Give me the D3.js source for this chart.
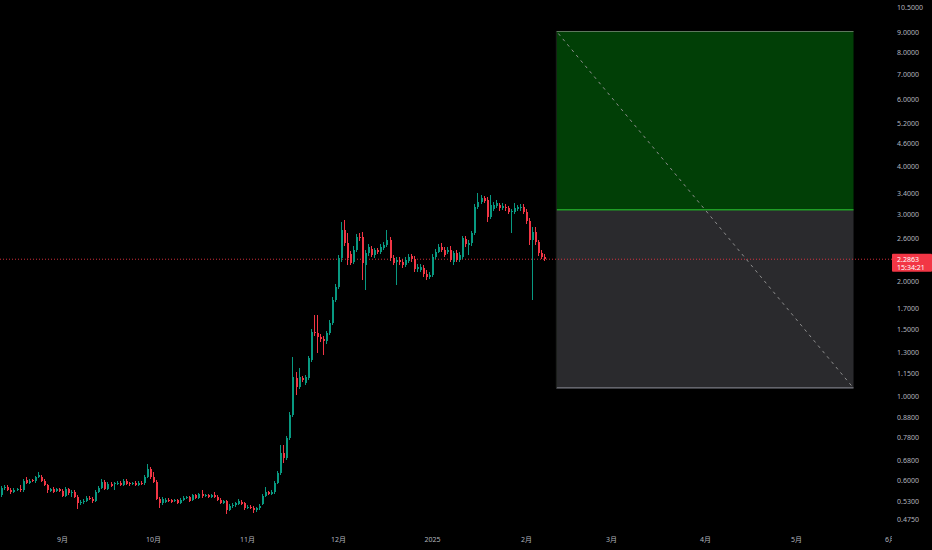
<!DOCTYPE html>
<html><head><meta charset="utf-8">
<script src="https://cdn.jsdelivr.net/npm/d3@7"></script>
<style>html,body{margin:0;padding:0;background:#000;overflow:hidden}</style>
</head><body><svg id="c" width="932" height="550"></svg>
<script>
const startDate = "2024-08-12";
const opens = [
0.5496,0.5734,0.5769,0.5665,0.5597,0.5665,0.5682,0.5648,0.6018,0.5921,
0.6000,0.5982,0.6117,0.6139,0.5993,0.5839,0.5631,0.5699,0.5631,0.5682,
0.5641,0.5463,0.5689,0.5563,0.5597,0.5430,0.5221,0.5269,0.5301,0.5408,
0.5365,0.5311,0.5607,0.5724,0.5957,0.5699,0.5874,0.5857,0.5892,0.5921,
0.5839,0.5982,0.5892,0.5864,0.5910,0.5839,0.5921,0.5892,0.6139,0.6420,
0.6117,0.5957,0.5365,0.5228,0.5279,0.5333,0.5317,0.5285,0.5323,0.5247,
0.5333,0.5398,0.5420,0.5333,0.5496,0.5408,0.5513,0.5463,0.5496,0.5440,
0.5480,0.5440,0.5333,0.5247,0.5285,0.5021,0.5127,0.5158,0.5206,0.5269,
0.5221,0.5082,0.5121,0.5091,0.5005,0.5066,0.5206,0.5463,0.5580,0.5530,
0.5597,0.5910,0.6278,0.7073,0.6862,0.7745,0.8915,1.117,1.054,1.115,
1.0818,1.115,1.2432,1.4752,1.4636,1.4312,1.4114,1.3903,1.461,1.552,
1.7867,1.9364,2.299,2.728,2.5173,2.3597,2.2524,2.417,2.6198,2.6151,
2.208,2.3698,2.4322,2.3385,2.417,2.3927,2.4542,2.492,2.568,2.3033,
2.2524,2.276,2.2482,2.2144,2.2687,2.3311,2.2894,2.155,2.1485,2.172,
2.0971,2.0570,2.078,2.3214,2.3956,2.4616,2.417,2.3884,2.417,2.2524,
2.3698,2.276,2.3214,2.579,2.492,2.5173,2.6743,3.1408,3.2372,3.3045,
3.271,2.9565,3.0975,3.1599,3.173,3.1106,3.1408,3.1162,3.0362,3.0511,
3.1068,3.1106,3.1408,3.0474,2.8807,2.568,2.7004,2.5325,2.374,2.3214];
const highs = [
0.5804,0.5839,0.5839,0.5734,0.5734,0.5734,0.5839,0.6055,0.6139,0.6055,
0.6055,0.6165,0.6305,0.6203,0.6055,0.5874,0.5734,0.5751,0.5734,0.5734,
0.5699,0.5751,0.5734,0.5665,0.5648,0.5480,0.5333,0.5349,0.5463,0.5463,
0.5414,0.5665,0.5786,0.6037,0.6018,0.5928,0.5928,0.5946,0.5982,0.5964,
0.6037,0.6037,0.5946,0.5946,0.5964,0.5982,0.5964,0.6203,0.6630,0.6522,
0.6305,0.6018,0.5414,0.5414,0.5381,0.5381,0.5365,0.5365,0.5365,0.5381,
0.5463,0.5463,0.5463,0.5546,0.5546,0.5563,0.5665,0.5546,0.5546,0.5530,
0.5607,0.5496,0.5381,0.5333,0.5333,0.5190,0.5221,0.5269,0.5349,0.5317,
0.5269,0.5174,0.5174,0.5143,0.5112,0.5206,0.5513,0.5779,0.5631,0.5665,
0.5964,0.6355,0.7437,0.7437,0.7853,0.9078,1.2636,1.156,1.182,1.1285,
1.1354,1.2736,1.4995,1.6318,1.6318,1.4547,1.4373,1.4815,1.583,1.8194,
1.968,2.345,2.8686,2.898,2.679,2.4028,2.4766,2.663,2.679,2.6953,
2.417,2.5068,2.4766,2.4542,2.4542,2.5068,2.5373,2.728,2.6151,2.345,
2.3173,2.3104,2.2894,2.3173,2.3597,2.3667,2.3311,2.2213,2.2213,2.2144,
2.142,2.1163,2.3597,2.4322,2.5068,2.5218,2.4616,2.4616,2.4766,2.4028,
2.417,2.3884,2.6311,2.6311,2.568,2.7117,3.1924,3.4059,3.3711,3.3509,
3.3306,3.3711,3.2313,3.271,3.2216,3.212,3.1924,3.1638,3.0975,3.212,
3.1829,3.1924,3.1924,3.0975,2.9335,2.7832,2.7832,2.568,2.417,2.3597];
const lows = [
0.5430,0.5665,0.5631,0.5530,0.5563,0.5631,0.5597,0.5597,0.5874,0.5874,
0.5928,0.5910,0.6091,0.5946,0.5804,0.5553,0.5597,0.5563,0.5597,0.5597,
0.5414,0.5430,0.5496,0.5440,0.5381,0.5042,0.5174,0.5206,0.5253,0.5317,
0.5228,0.5269,0.5563,0.5682,0.5648,0.5665,0.5769,0.5665,0.5839,0.5786,
0.5804,0.5821,0.5804,0.5821,0.5786,0.5786,0.5839,0.5839,0.6091,0.6055,
0.5910,0.5317,0.5072,0.5174,0.5237,0.5253,0.5237,0.5253,0.5206,0.5206,
0.5285,0.5349,0.5253,0.5285,0.5365,0.5365,0.5398,0.5414,0.5398,0.5398,
0.5398,0.5285,0.5206,0.5206,0.4901,0.4975,0.5082,0.5112,0.5158,0.5158,
0.5021,0.5036,0.5051,0.4939,0.4960,0.5021,0.5158,0.5414,0.5480,0.5480,
0.5546,0.5857,0.6203,0.6670,0.6792,0.7666,0.8808,1.006,1.0432,1.0883,
1.0688,1.1016,1.2282,1.4373,1.2969,1.3861,1.2813,1.3694,1.446,1.536,
1.7653,1.9096,2.2482,2.4766,2.208,2.208,2.2213,2.3884,2.5523,2.016,
1.898,2.3311,2.3173,2.3033,2.3597,2.3597,2.417,2.4616,2.2619,2.208,
1.956,2.208,2.1682,2.1815,2.2348,2.2482,2.1163,2.1163,2.1163,2.0535,
2.016,2.0287,2.0535,2.2894,2.374,2.3884,2.3173,2.3597,2.2482,2.208,
2.2482,2.2482,2.2894,2.4616,2.345,2.4766,2.647,3.0975,3.1924,3.212,
2.8686,2.9157,3.0603,3.1162,3.0694,3.079,3.0694,2.9964,2.6743,3.0144,
3.0603,3.0694,3.0054,2.8289,2.492,1.7867,2.492,2.3311,2.2894,2.2619];
const closes = [
0.5734,0.5769,0.5665,0.5597,0.5665,0.5682,0.5648,0.5982,0.5921,0.5993,
0.5982,0.6117,0.6203,0.5993,0.5839,0.5665,0.5689,0.5597,0.5682,0.5641,
0.5463,0.5689,0.5553,0.5597,0.5420,0.5228,0.5279,0.5301,0.5408,0.5365,
0.5311,0.5607,0.5724,0.5957,0.5699,0.5874,0.5814,0.5892,0.5921,0.5839,
0.5993,0.5864,0.5864,0.5910,0.5839,0.5921,0.5885,0.6139,0.6420,0.6117,
0.5957,0.5365,0.5228,0.5355,0.5333,0.5291,0.5279,0.5323,0.5247,0.5333,
0.5408,0.5420,0.5301,0.5496,0.5408,0.5520,0.5447,0.5496,0.5440,0.5486,
0.5440,0.5333,0.5247,0.5285,0.5021,0.5143,0.5174,0.5228,0.5301,0.5206,
0.5091,0.5121,0.5091,0.5021,0.5073,0.5152,0.5463,0.5580,0.5530,0.5607,
0.5910,0.6278,0.7073,0.6862,0.7745,0.8915,1.1238,1.054,1.1217,1.1016,
1.1217,1.256,1.4752,1.461,1.4312,1.4089,1.3945,1.461,1.552,1.7867,
1.9364,2.299,2.728,2.5173,2.299,2.2388,2.417,2.6198,2.5945,2.2307,
2.3698,2.4572,2.345,2.417,2.3927,2.4663,2.492,2.568,2.299,2.2388,
2.2796,2.2442,2.208,2.276,2.3214,2.2853,2.1511,2.1851,2.1851,2.0908,
2.0570,2.0846,2.3214,2.3956,2.4616,2.417,2.345,2.4247,2.276,2.3698,
2.276,2.345,2.5945,2.5023,2.5265,2.6743,3.1408,3.2372,3.3045,3.2511,
2.9565,3.173,3.173,3.2062,3.1106,3.1599,3.1106,3.0362,3.0603,3.122,
3.1408,3.1408,3.0474,2.8807,2.568,2.7004,2.5325,2.3698,2.3214,2.2863];
const priceTicks = [10.5,9,8,7,6,5.2,4.6,4,3.4,3,2.6,2,1.7,1.5,1.3,1.15,1,0.88,0.78,0.68,0.6,0.53,0.475];
const monthTicks = ["2024-09-01","2024-10-01","2024-11-01","2024-12-01","2025-01-01","2025-02-01","2025-03-01","2025-04-01","2025-05-01","2025-06-01"];
const monthLabels = ["9月","10月","11月","12月","2025","2月","3月","4月","5月","6月"];
const lastPrice = 2.2863;
const countdown = "15:34:21";
const targetPrice = 9.06, entryPrice = 3.084, stopPrice = 1.05;
const posStart = "2025-02-11", posEnd = "2025-05-20";

const W = 932, H = 550, axisX = 892;
const svg = d3.select("#c");
svg.append("rect").attr("width", W).attr("height", H).attr("fill", "#000");

const x = d3.scaleUtc().domain([new Date("2024-09-01"), new Date("2025-02-01")]).range([62, 526]);
const y = d3.scaleLog().domain([1, 10.5]).range([396, 7.1]);

const up = "#089981", down = "#f23645";
const start = new Date(startDate);
const candles = closes.map((c, i) => ({
  d: d3.utcDay.offset(start, i), o: opens[i], h: highs[i], l: lows[i], c
}));

// position tool
const px0 = x(new Date(posStart)), px1 = x(new Date(posEnd));
const pos = svg.append("g");
pos.append("rect").attr("x", px0).attr("y", y(targetPrice)).attr("width", px1 - px0)
  .attr("height", y(entryPrice) - y(targetPrice)).attr("fill", "#013f06");
pos.append("rect").attr("x", px0).attr("y", y(entryPrice)).attr("width", px1 - px0)
  .attr("height", y(stopPrice) - y(entryPrice)).attr("fill", "#2a2a2d");
pos.append("line").attr("x1", px0).attr("x2", px1).attr("y1", y(targetPrice)).attr("y2", y(targetPrice))
  .attr("stroke", "#5f7a5f").attr("stroke-width", 1);
pos.append("line").attr("x1", px0).attr("x2", px1).attr("y1", y(entryPrice)).attr("y2", y(entryPrice))
  .attr("stroke", "#1f9e25").attr("stroke-width", 1.5);
pos.append("line").attr("x1", px0).attr("x2", px1).attr("y1", y(stopPrice)).attr("y2", y(stopPrice))
  .attr("stroke", "#7b7d85").attr("stroke-width", 1.2);
pos.append("line").attr("x1", px0).attr("x2", px0).attr("y1", y(targetPrice)).attr("y2", y(stopPrice))
  .attr("stroke", "#1c1f1c").attr("stroke-width", 1);
pos.append("line").attr("x1", px0 + 2).attr("y1", y(targetPrice) + 2).attr("x2", px1 - 1).attr("y2", y(stopPrice) - 1)
  .attr("stroke", "#8d8d8d").attr("stroke-width", 1).attr("stroke-dasharray", "3,4");

// last price line
svg.append("line").attr("x1", 0).attr("x2", axisX).attr("y1", y(lastPrice)).attr("y2", y(lastPrice))
  .attr("stroke", down).attr("stroke-width", 1).attr("stroke-dasharray", "1,2").attr("opacity", 0.85);

// candles
const g = svg.append("g").attr("shape-rendering", "crispEdges");
g.selectAll("rect.w").data(candles).join("rect").attr("class", "w")
  .attr("x", d => Math.round(x(d.d)))
  .attr("width", 1)
  .attr("y", d => y(d.h))
  .attr("height", d => Math.max(1, y(d.l) - y(d.h)))
  .attr("fill", d => d.c >= d.o ? up : down);
g.selectAll("rect.b").data(candles).join("rect").attr("class", "b")
  .attr("x", d => Math.round(x(d.d)) - 0.5)
  .attr("width", 2)
  .attr("y", d => y(Math.max(d.o, d.c)))
  .attr("height", d => Math.max(1, Math.abs(y(d.o) - y(d.c))))
  .attr("fill", d => d.c >= d.o ? up : down);

// right axis
const font = "'Noto Sans','Noto Sans CJK SC',sans-serif";
const ay = svg.append("g").attr("transform", `translate(${axisX},0)`)
  .call(d3.axisRight(y).tickValues(priceTicks).tickFormat(d3.format(".4f")).tickSize(0).tickPadding(5));
ay.select(".domain").remove();
ay.selectAll("text").attr("fill", "#b2b5be").attr("font-size", 7).attr("font-family", font);

// bottom axis
svg.append("clipPath").attr("id", "bc").append("rect").attr("x", 0).attr("y", 525).attr("width", axisX).attr("height", 25);
const ax = svg.append("g").attr("clip-path", "url(#bc)").append("g").attr("transform", "translate(0,532)")
  .call(d3.axisBottom(x).tickValues(monthTicks.map(s => new Date(s))).tickFormat((d, i) => monthLabels[i]).tickSize(0).tickPadding(5));
ax.select(".domain").remove();
ax.selectAll("text").attr("fill", "#b2b5be").attr("font-size", 7).attr("font-family", font);

// last price label
const ly = y(lastPrice);
svg.append("rect").attr("x", axisX).attr("y", ly - 5.5).attr("width", 40).attr("height", 18)
  .attr("fill", down).attr("rx", 1);
svg.append("text").attr("x", axisX + 5).attr("y", ly + 2.5).text(d3.format(".4f")(lastPrice))
  .attr("fill", "#fff").attr("font-size", 7).attr("font-family", font);
svg.append("text").attr("x", axisX + 5).attr("y", ly + 10.5).text(countdown)
  .attr("fill", "#fff").attr("font-size", 7).attr("font-family", font);
</script></body></html>
